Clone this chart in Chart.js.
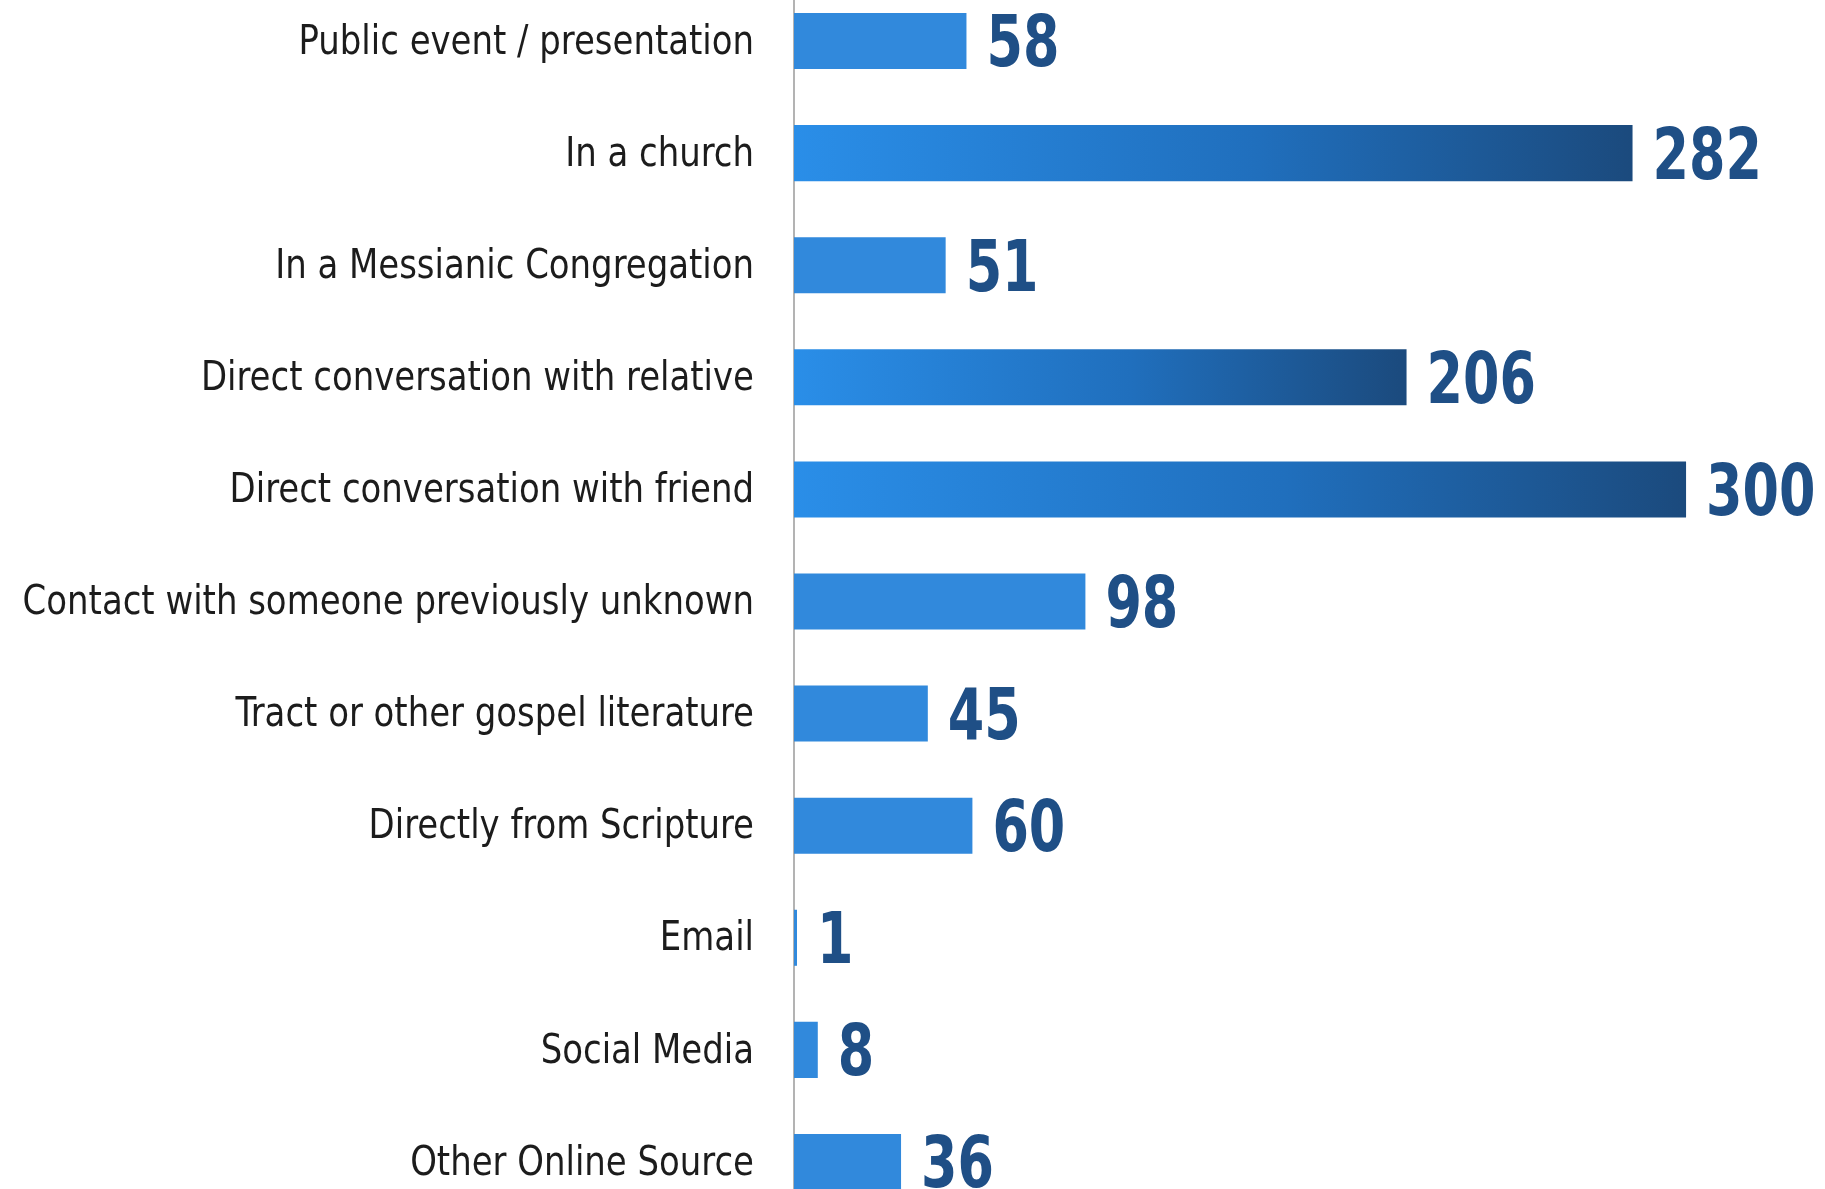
<!DOCTYPE html>
<html>
<head>
<meta charset="utf-8">
<script src="https://cdn.jsdelivr.net/npm/chart.js@4/dist/chart.umd.min.js"></script>
<style>
  html, body { margin: 0; padding: 0; background: #ffffff; overflow: hidden; }
  #wrap { position: absolute; left: 0; top: -15px; width: 1825px; height: 1233px; }
</style>
</head>
<body>
<div id="wrap"><canvas id="chart" width="1825" height="1233"></canvas></div>
<script>
// How people first heard the message, by source
const categories = [
  'Public event / presentation',
  'In a church',
  'In a Messianic Congregation',
  'Direct conversation with relative',
  'Direct conversation with friend',
  'Contact with someone previously unknown',
  'Tract or other gospel literature',
  'Directly from Scripture',
  'Email',
  'Social Media',
  'Other Online Source'
];
const counts = [58, 282, 51, 206, 300, 98, 45, 60, 1, 8, 36];

const FONT = '"DejaVu Sans Condensed", "DejaVu Sans", sans-serif';

// Long bars fade from bright blue to navy; short ones stay flat blue
function barFill(ctx) {
  const chart = ctx.chart;
  const v = ctx.raw;
  if (!chart.chartArea || v < 150) return '#3189dc';
  const xs = chart.scales.x;
  const g = chart.ctx.createLinearGradient(xs.getPixelForValue(0), 0, xs.getPixelForValue(v), 0);
  g.addColorStop(0, '#2a8ee8');
  g.addColorStop(0.55, '#206fbd');
  g.addColorStop(1, '#1b4a7d');
  return g;
}

// Draws text squeezed horizontally to give a condensed face
function condensedText(ctx, text, x, y, squeeze) {
  ctx.save();
  ctx.translate(x, y);
  ctx.scale(squeeze, 1);
  ctx.fillText(text, 0, 0);
  ctx.restore();
}

// Category names to the left of the axis and counts past each bar end
const textLayer = {
  id: 'textLayer',
  afterDatasetsDraw(chart) {
    const ctx = chart.ctx;
    const ys = chart.scales.y;
    const meta = chart.getDatasetMeta(0);
    ctx.save();
    ctx.textBaseline = 'middle';

    ctx.font = '41px ' + FONT;
    ctx.fillStyle = '#1c1c1c';
    ctx.textAlign = 'right';
    categories.forEach((name, i) => {
      condensedText(ctx, name, ys.right - 40, ys.getPixelForTick(i) + 2, 0.92);
    });

    ctx.font = 'bold 71px ' + FONT;
    ctx.fillStyle = '#1f4f86';
    ctx.textAlign = 'left';
    meta.data.forEach((bar, i) => {
      condensedText(ctx, String(counts[i]), bar.x + 20, bar.y + 7, 0.82);
    });
    ctx.restore();
  }
};

new Chart(document.getElementById('chart'), {
  type: 'bar',
  data: {
    labels: categories,
    datasets: [{
      data: counts,
      backgroundColor: barFill,
      borderWidth: 0,
      barPercentage: 1.0,
      categoryPercentage: 0.5
    }]
  },
  options: {
    indexAxis: 'y',
    responsive: false,
    animation: false,
    layout: { padding: { top: 0, bottom: 0, left: 0, right: 20 } },
    plugins: {
      legend: { display: false },
      tooltip: { enabled: false }
    },
    scales: {
      x: {
        display: false,
        min: 0,
        max: 340
      },
      y: {
        afterFit(scale) {
          scale.width = 794;
          scale.paddingTop = 0;
          scale.paddingBottom = 0;
        },
        grid: { display: false, drawTicks: false },
        border: { display: true, color: '#b3b3b3', width: 2 },
        ticks: { display: false }
      }
    }
  },
  plugins: [textLayer]
});
</script>
</body>
</html>
